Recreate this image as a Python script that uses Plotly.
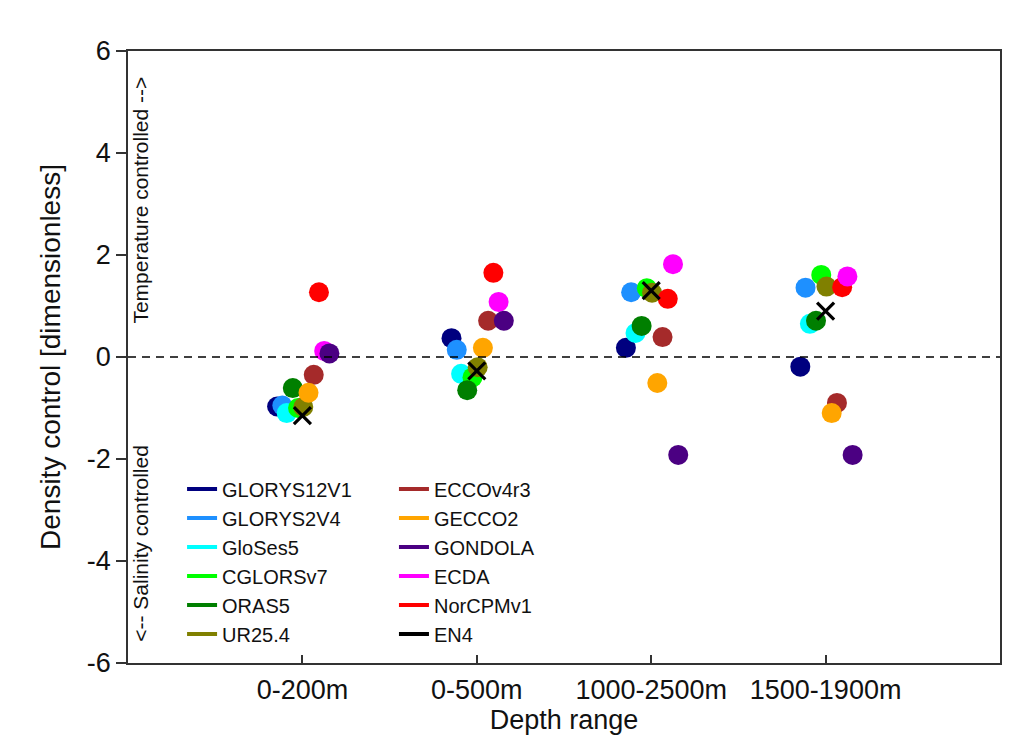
import plotly.graph_objects as go

categories = ["0-200m", "0-500m", "1000-2500m", "1500-1900m"]
y_ticks = [-6, -4, -2, 0, 2, 4, 6]
y_ticklabels = ["-6", "-4", "-2", "0", "2", "4", "6"]

models_col1 = ["GLORYS12V1", "GLORYS2V4", "GloSes5", "CGLORSv7", "ORAS5", "UR25.4"]
models_col2 = ["ECCOv4r3", "GECCO2", "GONDOLA", "ECDA", "NorCPMv1", "EN4"]

GLORYS12V1 = [-0.97, 0.37, 0.18, -0.19]
GLORYS2V4 = [-0.95, 0.14, 1.27, 1.36]
GloSes5 = [-1.10, -0.33, 0.47, 0.65]
CGLORSv7 = [-1.00, -0.40, 1.35, 1.61]
ORAS5 = [-0.61, -0.65, 0.61, 0.71]
UR25_4 = [-0.98, -0.20, 1.26, 1.38]
ECCOv4r3 = [-0.35, 0.71, 0.39, -0.90]
GECCO2 = [-0.70, 0.18, -0.51, -1.10]
GONDOLA = [0.07, 0.71, -1.92, -1.92]
ECDA = [0.12, 1.08, 1.82, 1.58]
NorCPMv1 = [1.27, 1.65, 1.14, 1.37]
EN4 = [-1.15, -0.27, 1.30, 0.90]

values = {
    "GLORYS12V1": GLORYS12V1, "GLORYS2V4": GLORYS2V4, "GloSes5": GloSes5,
    "CGLORSv7": CGLORSv7, "ORAS5": ORAS5, "UR25.4": UR25_4,
    "ECCOv4r3": ECCOv4r3, "GECCO2": GECCO2, "GONDOLA": GONDOLA,
    "ECDA": ECDA, "NorCPMv1": NorCPMv1, "EN4": EN4,
}

# style: colours and horizontal jitter per model
colors = {
    "GLORYS12V1": "#00007F", "GLORYS2V4": "#1E90FF", "GloSes5": "#00FFFF",
    "CGLORSv7": "#00FF00", "ORAS5": "#007F00", "UR25.4": "#808000",
    "ECCOv4r3": "#A52A2A", "GECCO2": "#FFA500", "GONDOLA": "#4B0082",
    "ECDA": "#FF00FF", "NorCPMv1": "#FF0000", "EN4": "#000000",
}
jitter = {
    "GLORYS12V1": -0.145, "GLORYS2V4": -0.115, "GloSes5": -0.09,
    "CGLORSv7": -0.025, "ORAS5": -0.055, "UR25.4": 0.005,
    "ECCOv4r3": 0.065, "GECCO2": 0.035, "GONDOLA": 0.155,
    "ECDA": 0.125, "NorCPMv1": 0.095, "EN4": 0.0,
}
draw_order = ["GLORYS12V1", "GLORYS2V4", "GloSes5", "CGLORSv7", "ORAS5", "UR25.4",
              "ECCOv4r3", "GECCO2", "NorCPMv1", "ECDA", "GONDOLA", "EN4"]

FONT = "Liberation Sans, Arial, sans-serif"
fig = go.Figure()

for m in draw_order:
    xs = [i + 1 + jitter[m] for i in range(len(categories))]
    if m == "EN4":
        marker = dict(symbol="x-thin", size=17, line=dict(color="black", width=3.2))
    else:
        marker = dict(size=20, color=colors[m], line=dict(width=0))
    fig.add_trace(go.Scatter(x=xs, y=values[m], mode="markers", marker=marker,
                             showlegend=False, hoverinfo="y+name", name=m))

# legend entries as line samples in two columns
for m in models_col1:
    fig.add_trace(go.Scatter(x=[None], y=[None], mode="lines", name=m,
                             line=dict(color=colors[m], width=4), legend="legend"))
for m in models_col2:
    fig.add_trace(go.Scatter(x=[None], y=[None], mode="lines", name=m,
                             line=dict(color=colors[m], width=4), legend="legend2"))

fig.add_hline(y=0, line=dict(color="black", width=1.5, dash="8px,6px"))

legend_common = dict(font=dict(family=FONT, size=20, color="#111"), bgcolor="rgba(0,0,0,0)",
                     borderwidth=0, yanchor="top", xanchor="left", tracegroupgap=0,
                     itemwidth=30)
fig.update_layout(
    width=1033, height=742,
    margin=dict(l=128, r=33, t=51, b=79),
    paper_bgcolor="white", plot_bgcolor="white",
    font=dict(family=FONT, size=27, color="#111"),
    legend=dict(x=0.062, y=0.316, **legend_common),
    legend2=dict(x=0.305, y=0.316, **legend_common),
    xaxis=dict(range=[0, 5], tickvals=[1, 2, 3, 4], ticktext=categories,
               ticks="inside", ticklen=8, tickcolor="#333", tickwidth=1.5,
               showline=True, linecolor="#333", linewidth=1.5, mirror=True,
               showgrid=False, zeroline=False,
               tickfont=dict(size=27), ticklabelstandoff=2,
               title=dict(text="Depth range", font=dict(size=27), standoff=4)),
    yaxis=dict(range=[-6, 6], tickvals=y_ticks, ticktext=y_ticklabels,
               ticks="outside", ticklen=10, tickcolor="#333", tickwidth=1.5,
               showline=True, linecolor="#333", linewidth=1.5, mirror=True,
               showgrid=False, zeroline=False,
               tickfont=dict(size=27),
               title=dict(text="Density control [dimensionless]", font=dict(size=28), standoff=18)),
)

fig.add_annotation(text="Temperature controlled -->", xref="paper", yref="y",
                   x=0.0145, y=3.08, xanchor="center", yanchor="middle",
                   textangle=-90, showarrow=False,
                   font=dict(family=FONT, size=21, color="#111"))
fig.add_annotation(text="<-- Salinity controlled", xref="paper", yref="y",
                   x=0.0145, y=-3.65, xanchor="center", yanchor="middle",
                   textangle=-90, showarrow=False,
                   font=dict(family=FONT, size=21, color="#111"))

fig.write_html("out.html")
